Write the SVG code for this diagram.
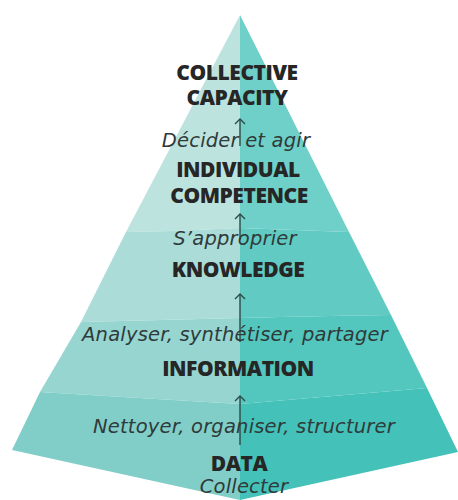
<svg xmlns="http://www.w3.org/2000/svg" width="458" height="500" viewBox="0 0 458 500">
  <style>
    .lvl { font-family: "Open Sans", "Liberation Sans", sans-serif; font-weight: 800; font-size: 21px; fill: #262626; text-anchor: middle; letter-spacing: -0.45px; }
    .act { font-family: "DejaVu Sans", "Liberation Sans", sans-serif; font-style: italic; font-size: 19.5px; fill: #2f3a3a; text-anchor: middle; letter-spacing: 0.2px; }
    .arrow { stroke: #2c4a47; stroke-width: 1.4; fill: none; marker-end: url(#head); }
  </style>
  <defs>
    <marker id="head" viewBox="-6 -6 12 12" markerWidth="12" markerHeight="12" markerUnits="userSpaceOnUse" orient="auto">
      <path d="M-5,-5 L0,0 L-5,5" fill="none" stroke="#2c4a47" stroke-width="1.4"/>
    </marker>
  </defs>

  <rect width="458" height="500" fill="#ffffff"/>

  <!-- pyramid: left face (light) and right face (dark), in four bands -->
  <g id="pyramid">
    <!-- left face -->
    <path d="M240,15 L126,232 Q183,231 240,228 Z" fill="#bde3df"/>
    <path d="M126,232 Q183,231 240,228 L240,318 Q160,320 81,322 Z" fill="#abdcd8"/>
    <path d="M81,322 Q160,320 240,318 L240,404 Q140,398 40,392 Z" fill="#97d6d0"/>
    <path d="M40,392 Q140,398 240,404 L240,500 L12,450 Z" fill="#81cec8"/>
    <!-- right face -->
    <path d="M240,15 L349,232 Q295,230 240,228 Z" fill="#6ed0c8"/>
    <path d="M349,232 Q295,230 240,228 L240,318 Q320,316 391,315 Z" fill="#61cbc3"/>
    <path d="M391,315 Q320,316 240,318 L240,404 Q333,396 427,388 Z" fill="#53c7be"/>
    <path d="M427,388 Q333,396 240,404 L240,500 L458,452 Z" fill="#44c2b9"/>
  </g>

  <!-- connectors between levels -->
  <g id="connectors">
    <line class="arrow" x1="240" y1="146" x2="240" y2="119"/>
    <line class="arrow" x1="240" y1="240" x2="240" y2="214"/>
    <line class="arrow" x1="240" y1="342" x2="240" y2="294"/>
    <line class="arrow" x1="240" y1="445" x2="240" y2="396"/>
  </g>

  <g id="collective-capacity">
    <text class="lvl" x="237" y="80">COLLECTIVE</text>
    <text class="lvl" x="237" y="105">CAPACITY</text>
  </g>
  <g id="decider">
    <text class="act" x="236" y="147">Décider et agir</text>
  </g>
  <g id="individual-competence">
    <text class="lvl" x="238" y="177">INDIVIDUAL</text>
    <text class="lvl" x="239" y="203">COMPETENCE</text>
  </g>
  <g id="approprier">
    <text class="act" x="235" y="245">S’approprier</text>
  </g>
  <g id="knowledge">
    <text class="lvl" x="238" y="277">KNOWLEDGE</text>
  </g>
  <g id="analyser">
    <text class="act" x="235" y="341">Analyser, synthétiser, partager</text>
  </g>
  <g id="information">
    <text class="lvl" x="238" y="376">INFORMATION</text>
  </g>
  <g id="nettoyer">
    <text class="act" x="244" y="433">Nettoyer, organiser, structurer</text>
  </g>
  <g id="data">
    <text class="lvl" x="239" y="471">DATA</text>
  </g>
  <g id="collecter">
    <text class="act" x="244" y="493">Collecter</text>
  </g>
</svg>
